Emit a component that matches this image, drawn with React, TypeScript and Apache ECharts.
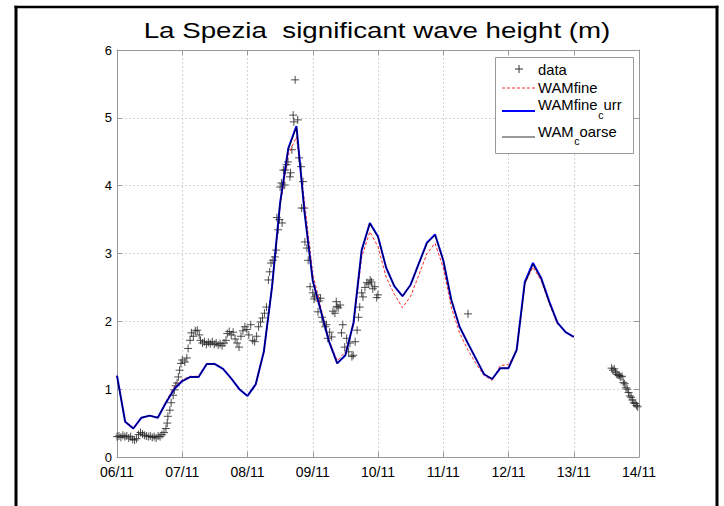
import React, { useEffect, useRef } from "react";
import * as echarts from "echarts";

const FONT = '"Liberation Sans", Arial, Helvetica, sans-serif';

const dayLabels = ["06/11", "07/11", "08/11", "09/11", "10/11", "11/11", "12/11", "13/11", "14/11"];
const yTicks = [0, 1, 2, 3, 4, 5, 6];

// model output times (hours since 06/11 00:00), 3-hourly
const modelHours = [
  0, 3, 6, 9, 12, 15, 18, 21, 24, 27, 30, 33, 36, 39, 42, 45, 48, 51, 54, 57, 60, 63, 66, 69,
  72, 75, 78, 81, 84, 87, 90, 93, 96, 99, 102, 105, 108, 111, 114, 117, 120, 123, 126, 129,
  132, 135, 138, 141, 144, 147, 150, 153, 156, 159, 162, 165, 168,
];

const wamFine = [
  1.20, 0.53, 0.43, 0.58, 0.61, 0.58, 0.82, 1.03, 1.14, 1.19, 1.19, 1.38, 1.38, 1.30, 1.16, 1.00,
  0.90, 1.06, 1.55, 2.48, 3.70, 4.45, 4.72, 3.75, 2.70, 2.20, 1.72, 1.42, 1.55, 1.95, 2.95, 3.32,
  3.10, 2.65, 2.40, 2.20, 2.37, 2.68, 3.00, 3.15, 2.79, 2.20, 1.83, 1.58, 1.38, 1.20, 1.13, 1.35,
  1.36, 1.56, 2.55, 2.80, 2.60, 2.26, 1.96, 1.84, 1.77,
];

const wamFineCurr = [
  1.20, 0.52, 0.42, 0.58, 0.61, 0.58, 0.80, 1.00, 1.12, 1.18, 1.18, 1.37, 1.37, 1.30, 1.16, 1.00,
  0.90, 1.07, 1.55, 2.50, 3.75, 4.55, 4.88, 3.60, 2.60, 2.15, 1.70, 1.38, 1.50, 1.98, 3.05, 3.45,
  3.25, 2.79, 2.52, 2.37, 2.54, 2.85, 3.16, 3.28, 2.90, 2.31, 1.92, 1.68, 1.45, 1.22, 1.15, 1.31,
  1.31, 1.58, 2.58, 2.86, 2.64, 2.29, 1.98, 1.84, 1.77,
];

const wamCoarse = [
  1.19, 0.52, 0.42, 0.58, 0.61, 0.58, 0.80, 1.00, 1.12, 1.18, 1.18, 1.37, 1.37, 1.30, 1.16, 1.00,
  0.90, 1.07, 1.55, 2.50, 3.74, 4.54, 4.86, 3.60, 2.60, 2.15, 1.70, 1.38, 1.50, 1.98, 3.05, 3.44,
  3.24, 2.79, 2.52, 2.37, 2.54, 2.85, 3.15, 3.27, 2.90, 2.31, 1.92, 1.68, 1.45, 1.22, 1.15, 1.31,
  1.31, 1.58, 2.56, 2.84, 2.63, 2.28, 1.98, 1.84, 1.77,
];

// buoy observations: time in days since 06/11 00:00, Hs in m
const obsDay = [
  0.00, 0.03, 0.06, 0.09, 0.12, 0.15, 0.18, 0.21, 0.24, 0.27, 0.30, 0.33, 0.36, 0.39, 0.42, 0.45,
  0.48, 0.51, 0.54, 0.57, 0.60, 0.63, 0.66, 0.69, 0.72, 0.75, 0.77, 0.78, 0.81, 0.83, 0.86, 0.88,
  0.90, 0.92, 0.94, 0.96, 0.98, 1.00, 1.04, 1.07, 1.09, 1.12, 1.14, 1.17, 1.20, 1.23, 1.26, 1.28,
  1.31, 1.34, 1.37, 1.40, 1.43, 1.46, 1.49, 1.52, 1.55, 1.58, 1.61, 1.64, 1.67, 1.69, 1.72, 1.75,
  1.78, 1.81, 1.84, 1.87, 1.90, 1.93, 1.96, 1.99, 2.02, 2.05, 2.08, 2.11, 2.14, 2.17, 2.20, 2.23,
  2.26, 2.29, 2.32, 2.34, 2.36, 2.39, 2.42, 2.44, 2.45, 2.47, 2.49, 2.50, 2.52, 2.53, 2.55, 2.57,
  2.58, 2.60, 2.62, 2.65, 2.66, 2.68, 2.70, 2.71, 2.73, 2.77, 2.79, 2.82, 2.83, 2.85, 2.87, 2.88,
  2.91, 2.93, 2.96, 3.00, 3.02, 3.03, 3.06, 3.08, 3.10, 3.12, 3.14, 3.16, 3.19, 3.21, 3.23, 3.26,
  3.29, 3.31, 3.34, 3.36, 3.37, 3.39, 3.42, 3.44, 3.46, 3.49, 3.52, 3.55, 3.57, 3.60, 3.62, 3.65,
  3.68, 3.70, 3.72, 3.75, 3.77, 3.80, 3.83, 3.86, 3.88, 3.90, 3.92, 3.95, 3.98, 4.00,
  5.38,
  7.58, 7.60, 7.62, 7.64, 7.66, 7.68, 7.70, 7.72, 7.74, 7.76, 7.78, 7.80, 7.82, 7.84, 7.86, 7.88,
  7.90, 7.92, 7.94, 7.96, 7.98,
];
const obsHs = [
  0.30, 0.31, 0.29, 0.32, 0.30, 0.31, 0.28, 0.30, 0.26, 0.25, 0.27, 0.33, 0.36, 0.34, 0.32, 0.31,
  0.30, 0.31, 0.29, 0.30, 0.28, 0.31, 0.30, 0.33, 0.36, 0.42, 0.50, 0.60, 0.69, 0.80, 0.91, 0.99,
  1.05, 1.09, 1.18, 1.28, 1.38, 1.43, 1.40, 1.46, 1.60, 1.72, 1.83, 1.78, 1.86, 1.87, 1.80, 1.72,
  1.68, 1.70, 1.66, 1.69, 1.67, 1.70, 1.66, 1.68, 1.65, 1.67, 1.64, 1.68, 1.72, 1.82, 1.85, 1.80,
  1.84, 1.74, 1.68, 1.62, 1.78, 1.86, 1.92, 1.88, 1.80, 1.95, 1.72, 1.70, 1.78, 1.92, 1.99, 2.05,
  2.12, 2.21, 2.61, 2.73, 2.86, 2.90, 2.95, 3.05, 3.53, 3.35, 3.50, 3.98, 4.04, 3.45, 4.23, 4.01,
  4.23, 4.31, 4.35, 4.13, 4.19, 4.53, 5.04, 4.94, 5.56, 4.97, 4.41, 4.28, 3.67, 4.06, 3.67, 3.17,
  3.08, 2.90, 2.51, 2.42, 2.33, 2.36, 2.39, 2.14, 2.30, 2.34, 2.06, 1.99, 1.92, 1.95, 1.75, 1.84,
  1.77, 2.15, 2.12, 2.29, 2.22, 2.20, 2.24, 1.83, 1.95, 1.62, 1.75, 1.55, 1.68, 1.48, 1.50, 1.70,
  1.87, 2.06, 2.21, 2.42, 2.36, 2.50, 2.57, 2.55, 2.61, 2.58, 2.48, 2.51, 2.35, 2.39,
  2.11,
  1.31, 1.28, 1.30, 1.25, 1.22, 1.21, 1.20, 1.18, 1.19, 1.10, 1.08, 1.02, 1.00, 0.95, 0.90, 0.88,
  0.84, 0.80, 0.79, 0.76, 0.74,
];

const seriesNames = ["data", "WAMfine", "WAMfine_curr", "WAM_coarse"];

const AXIS_GRAY = "#999";

export default function App() {
  const ref = useRef<HTMLDivElement>(null);

  useEffect(() => {
    if (!ref.current) return;
    const chart = echarts.init(ref.current, undefined, { renderer: "svg" });

    const toModel = (vals: number[]) => modelHours.map((h, i) => [h / 24, vals[i]]);
    const obs = obsDay.map((d, i) => [d, obsHs[i]]);

    const baseX = {
      type: "value",
      min: 0,
      max: dayLabels.length - 1,
      interval: 1,
      axisLine: { show: true, onZero: false, lineStyle: { color: AXIS_GRAY, width: 1 } },
      axisTick: { show: true, inside: true, length: 5, lineStyle: { color: AXIS_GRAY } },
    };
    const baseY = {
      type: "value",
      min: yTicks[0],
      max: yTicks[yTicks.length - 1],
      interval: 1,
      axisLine: { show: true, onZero: false, lineStyle: { color: AXIS_GRAY, width: 1 } },
      axisTick: { show: true, inside: true, length: 5, lineStyle: { color: AXIS_GRAY } },
    };
    const gridLine = { show: true, lineStyle: { color: "#d4d4d4", type: [2, 2], width: 1 } };

    const legendText = (text: string, x: number, y: number, size = 14) => ({
      type: "text",
      x,
      y,
      z: 110,
      style: {
        text,
        fontSize: size,
        fontFamily: FONT,
        fill: "#000",
        textAlign: "left",
        textVerticalAlign: "middle",
      },
    });

    const option: any = {
      animation: false,
      backgroundColor: "#fff",
      textStyle: { fontFamily: FONT },
      grid: { left: 117, top: 50, width: 522, height: 407, show: false },
      xAxis: [
        {
          ...baseX,
          position: "bottom",
          axisLabel: {
            color: "#000",
            fontSize: 14,
            fontFamily: FONT,
            margin: 8,
            formatter: (v: number) => dayLabels[Math.round(v)] ?? "",
          },
          splitLine: gridLine,
        },
        {
          ...baseX,
          position: "top",
          axisLabel: { show: false },
          splitLine: { show: false },
        },
      ],
      yAxis: [
        {
          ...baseY,
          position: "left",
          axisLabel: { color: "#000", fontSize: 13, fontFamily: FONT, margin: 5 },
          splitLine: gridLine,
        },
        {
          ...baseY,
          position: "right",
          axisLabel: { show: false },
          splitLine: { show: false },
        },
      ],
      series: [
        {
          name: seriesNames[0],
          type: "scatter",
          data: obs,
          symbol: "path://M0,5L10,5M5,0L5,10",
          symbolSize: 8,
          itemStyle: { color: "rgba(0,0,0,0)", borderColor: "#222", borderWidth: 1 },
          z: 2,
        },
        {
          name: seriesNames[1],
          type: "line",
          data: toModel(wamFine),
          showSymbol: false,
          symbol: "none",
          lineStyle: { color: "#ff2a2a", width: 1, type: [3, 2] },
          z: 3,
        },
        {
          name: seriesNames[2],
          type: "line",
          data: toModel(wamFineCurr),
          showSymbol: false,
          symbol: "none",
          lineStyle: { color: "#0000ff", width: 2 },
          z: 4,
        },
        {
          name: seriesNames[3],
          type: "line",
          data: toModel(wamCoarse),
          showSymbol: false,
          symbol: "none",
          lineStyle: { color: "#000", width: 0.8 },
          z: 5,
        },
      ],
      graphic: [
        // outer frame
        { type: "line", shape: { x1: 16, y1: 5.8, x2: 16, y2: 506 }, style: { stroke: "#000", lineWidth: 3 } },
        { type: "line", shape: { x1: 14.5, y1: 7, x2: 718.5, y2: 7 }, style: { stroke: "#000", lineWidth: 2.5 } },
        { type: "line", shape: { x1: 717, y1: 5.8, x2: 717, y2: 506 }, style: { stroke: "#000", lineWidth: 3 } },
        // title
        {
          type: "text",
          x: 377,
          y: 30,
          scaleX: 1.26,
          style: {
            text: "La Spezia  significant wave height (m)",
            fontSize: 22,
            fontFamily: FONT,
            fill: "#000",
            textAlign: "center",
            textVerticalAlign: "middle",
          },
        },
        // legend box
        {
          type: "rect",
          z: 100,
          shape: { x: 495.5, y: 57.5, width: 138, height: 96 },
          style: { fill: "#fff", stroke: AXIS_GRAY, lineWidth: 1 },
        },
        { type: "line", z: 101, shape: { x1: 515, y1: 69, x2: 523, y2: 69 }, style: { stroke: "#333", lineWidth: 1 } },
        { type: "line", z: 101, shape: { x1: 519, y1: 65, x2: 519, y2: 73 }, style: { stroke: "#333", lineWidth: 1 } },
        { type: "line", z: 101, shape: { x1: 502, y1: 88, x2: 535, y2: 88 }, style: { stroke: "#ff2a2a", lineWidth: 1, lineDash: [3, 2] } },
        { type: "line", z: 101, shape: { x1: 502, y1: 111, x2: 535, y2: 111 }, style: { stroke: "#0000ff", lineWidth: 2 } },
        { type: "line", z: 101, shape: { x1: 502, y1: 137, x2: 535, y2: 137 }, style: { stroke: "#333", lineWidth: 1 } },
        {
          type: "group",
          x: 538,
          y: 0,
          scaleX: 1.06,
          children: [
            legendText("data", 0, 70),
            legendText("WAMfine", 0, 88),
            legendText("WAMfine", 0, 105),
            legendText("c", 56.8, 116, 10),
            legendText("urr", 61.8, 105),
            legendText("WAM", 0, 132),
            legendText("c", 34.2, 142, 10),
            legendText("oarse", 39.2, 132),
          ],
        },
      ],
    };

    chart.setOption(option);
    return () => chart.dispose();
  }, []);

  return (
    <div
      ref={ref}
      style={{ position: "fixed", left: 0, top: 0, width: 724, height: 506, background: "#fff" }}
    />
  );
}
